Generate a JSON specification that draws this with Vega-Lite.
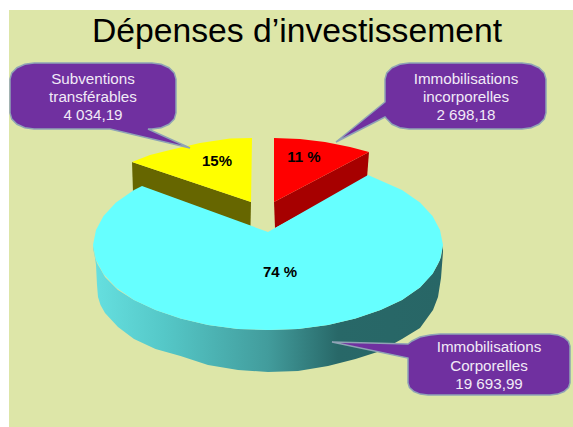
{"$schema":"https://vega.github.io/schema/vega-lite/v6.json","width":573,"height":427,"autosize":{"type":"fit","contains":"padding"},"padding":0,"background":"white","view":{"stroke":null},
"datasets":{
"bg":[{"x":9,"x2":573,"y":10,"y2":427}],
"wall":[{"x":93,"t":245,"b":248},{"x":95,"t":256,"b":258},{"x":96,"t":260,"b":265},{"x":97,"t":263,"b":285},{"x":98,"t":265,"b":297},{"x":100.5,"t":269,"b":305},{"x":105,"t":277,"b":313},{"x":118,"t":290,"b":327},{"x":134,"t":300,"b":339},{"x":155.5,"t":310,"b":349},{"x":180.5,"t":318.6,"b":356},{"x":208,"t":325,"b":365},{"x":238,"t":329,"b":370},{"x":268,"t":330,"b":372},{"x":298,"t":329,"b":371},{"x":328,"t":325,"b":366},{"x":355.5,"t":318.6,"b":359},{"x":380.5,"t":310,"b":351},{"x":402,"t":300,"b":339},{"x":420,"t":287.5,"b":328},{"x":433,"t":273,"b":310},{"x":438,"t":264,"b":297},{"x":441,"t":257,"b":278},{"x":443,"t":245,"b":252}],
"wedges":[
{"p":"yellowWall","i":1,"x":132,"y":162},{"p":"yellowWall","i":2,"x":251,"y":202},{"p":"yellowWall","i":3,"x":250.5,"y":226},{"p":"yellowWall","i":4,"x":133,"y":192},
{"p":"yellowTop","i":1,"x":252,"y":138},{"p":"yellowTop","i":2,"x":230,"y":138.5},{"p":"yellowTop","i":3,"x":200,"y":143},{"p":"yellowTop","i":4,"x":170,"y":150},{"p":"yellowTop","i":5,"x":150,"y":155},{"p":"yellowTop","i":6,"x":132,"y":162},{"p":"yellowTop","i":7,"x":251,"y":202},
{"p":"redWall","i":1,"x":369,"y":152},{"p":"redWall","i":2,"x":274,"y":202},{"p":"redWall","i":3,"x":275,"y":228},{"p":"redWall","i":4,"x":367,"y":178},
{"p":"redTop","i":1,"x":274,"y":138},{"p":"redTop","i":2,"x":300,"y":139},{"p":"redTop","i":3,"x":325,"y":142},{"p":"redTop","i":4,"x":350,"y":147},{"p":"redTop","i":5,"x":369,"y":152},{"p":"redTop","i":6,"x":274,"y":202}
],
"cyan":[{"i":1,"x":268,"y":232},{"i":2,"x":368,"y":175},{"i":3,"x":402,"y":190},{"i":4,"x":420,"y":202.5},{"i":5,"x":432.5,"y":216},{"i":6,"x":440,"y":230},{"i":7,"x":443,"y":245},{"i":8,"x":440,"y":260},{"i":9,"x":432.5,"y":274},{"i":10,"x":420,"y":287.5},{"i":11,"x":402,"y":300},{"i":12,"x":380.5,"y":310},{"i":13,"x":355.5,"y":318.6},{"i":14,"x":328,"y":325},{"i":15,"x":298,"y":329},{"i":16,"x":268,"y":330},{"i":17,"x":238,"y":329},{"i":18,"x":208,"y":325},{"i":19,"x":180.5,"y":318.6},{"i":20,"x":155.5,"y":310},{"i":21,"x":134,"y":300},{"i":22,"x":116,"y":287.5},{"i":23,"x":103.5,"y":274},{"i":24,"x":96,"y":260},{"i":25,"x":93,"y":245},{"i":26,"x":96,"y":230},{"i":27,"x":103.5,"y":216},{"i":28,"x":116,"y":202.5},{"i":29,"x":134,"y":190},{"i":30,"x":142,"y":186}],
"callouts":[
{"c":"a","i":1,"x":34,"y":63},{"c":"a","i":2,"x":152,"y":63},{"c":"a","i":3,"x":161.2,"y":64.2},{"c":"a","i":4,"x":169,"y":67.7},{"c":"a","i":5,"x":174.2,"y":72.9},{"c":"a","i":6,"x":176,"y":79},{"c":"a","i":7,"x":176,"y":113},{"c":"a","i":8,"x":174.2,"y":119.1},{"c":"a","i":9,"x":169,"y":124.3},{"c":"a","i":10,"x":161.2,"y":127.8},{"c":"a","i":11,"x":152,"y":129},{"c":"a","i":12,"x":148,"y":129},{"c":"a","i":13,"x":190,"y":148},{"c":"a","i":14,"x":110,"y":129},{"c":"a","i":15,"x":34,"y":129},{"c":"a","i":16,"x":24.8,"y":127.8},{"c":"a","i":17,"x":17,"y":124.3},{"c":"a","i":18,"x":11.8,"y":119.1},{"c":"a","i":19,"x":10,"y":113},{"c":"a","i":20,"x":10,"y":79},{"c":"a","i":21,"x":11.8,"y":72.9},{"c":"a","i":22,"x":17,"y":67.7},{"c":"a","i":23,"x":24.8,"y":64.2},{"c":"a","i":24,"x":34,"y":63},
{"c":"b","i":1,"x":409,"y":63},{"c":"b","i":2,"x":522,"y":63},{"c":"b","i":3,"x":531.2,"y":64.2},{"c":"b","i":4,"x":539,"y":67.7},{"c":"b","i":5,"x":544.2,"y":72.9},{"c":"b","i":6,"x":546,"y":79},{"c":"b","i":7,"x":546,"y":113},{"c":"b","i":8,"x":544.2,"y":119.1},{"c":"b","i":9,"x":539,"y":124.3},{"c":"b","i":10,"x":531.2,"y":127.8},{"c":"b","i":11,"x":522,"y":129},{"c":"b","i":12,"x":409,"y":129},{"c":"b","i":13,"x":399.8,"y":127.8},{"c":"b","i":14,"x":392,"y":124.3},{"c":"b","i":15,"x":386.8,"y":119.1},{"c":"b","i":16,"x":385,"y":117},{"c":"b","i":17,"x":336,"y":142},{"c":"b","i":18,"x":385,"y":102},{"c":"b","i":19,"x":385,"y":79},{"c":"b","i":20,"x":386.8,"y":72.9},{"c":"b","i":21,"x":392,"y":67.7},{"c":"b","i":22,"x":399.8,"y":64.2},{"c":"b","i":23,"x":409,"y":63},
{"c":"c","i":1,"x":440,"y":334},{"c":"c","i":2,"x":550,"y":334},{"c":"c","i":3,"x":557.7,"y":334.9},{"c":"c","i":4,"x":564.1,"y":337.5},{"c":"c","i":5,"x":568.5,"y":341.4},{"c":"c","i":6,"x":570,"y":346},{"c":"c","i":7,"x":570,"y":383},{"c":"c","i":8,"x":568.5,"y":387.6},{"c":"c","i":9,"x":564.1,"y":391.5},{"c":"c","i":10,"x":557.7,"y":394.1},{"c":"c","i":11,"x":550,"y":395},{"c":"c","i":12,"x":428,"y":395},{"c":"c","i":13,"x":420.3,"y":394.1},{"c":"c","i":14,"x":413.9,"y":391.5},{"c":"c","i":15,"x":409.5,"y":387.6},{"c":"c","i":16,"x":408,"y":383},{"c":"c","i":17,"x":408,"y":358},{"c":"c","i":18,"x":332,"y":342},{"c":"c","i":19,"x":408,"y":344},{"c":"c","i":20,"x":412,"y":341},{"c":"c","i":21,"x":420,"y":337},{"c":"c","i":22,"x":430,"y":335},{"c":"c","i":23,"x":440,"y":334}
],
"calloutText":[
{"t":"Subventions","x":93,"y":79},{"t":"transférables","x":93,"y":97},{"t":"4 034,19","x":93,"y":115},
{"t":"Immobilisations","x":466,"y":79},{"t":"incorporelles","x":466,"y":97},{"t":"2 698,18","x":466,"y":115},
{"t":"Immobilisations","x":489,"y":347},{"t":"Corporelles","x":489,"y":366},{"t":"19 693,99","x":489,"y":384}
],
"pct":[{"t":"15%","x":217,"y":161},{"t":"11 %","x":304,"y":157},{"t":"74 %","x":280,"y":272}],
"title":[{"t":"Dépenses d’investissement","x":297,"y":32}]
},
"encoding":{
"x":{"field":"x","type":"quantitative","scale":{"domain":[0,573],"nice":false,"zero":false},"axis":null},
"y":{"field":"y","type":"quantitative","scale":{"domain":[427,0],"nice":false,"zero":false},"axis":null}
},
"layer":[
{"data":{"name":"bg"},"mark":{"type":"rect","color":"#dde6a8"},"encoding":{"x2":{"field":"x2"},"y2":{"field":"y2"}}},
{"data":{"name":"wall"},"mark":{"type":"area","line":false,"color":{"gradient":"linear","x1":0,"y1":0,"x2":1,"y2":0,"stops":[{"offset":0,"color":"#66e0e0"},{"offset":0.2,"color":"#55c8c8"},{"offset":0.5,"color":"#429c9c"},{"offset":0.7,"color":"#286868"},{"offset":1,"color":"#286666"}]}},"encoding":{"y":{"field":"t","type":"quantitative","scale":{"domain":[427,0],"nice":false,"zero":false},"axis":null},"y2":{"field":"b"}}},
{"data":{"name":"wedges"},"mark":{"type":"line","filled":true,"strokeWidth":0},"encoding":{"order":{"field":"i"},"detail":{"field":"p"},"color":{"field":"p","type":"nominal","legend":null,"scale":{"domain":["yellowWall","yellowTop","redWall","redTop"],"range":["#666600","#ffff00","#a60000","#ff0000"]}}}},
{"data":{"name":"cyan"},"mark":{"type":"line","filled":true,"strokeWidth":0,"color":"#66ffff"},"encoding":{"order":{"field":"i"}}},
{"data":{"name":"callouts"},"mark":{"type":"line","filled":true,"color":"#7030a0","stroke":"#8fa3b5","strokeWidth":1.5},"encoding":{"order":{"field":"i"},"detail":{"field":"c"}}},
{"data":{"name":"calloutText"},"mark":{"type":"text","font":"Liberation Sans","fontSize":15.2,"color":"#f2eaf7","align":"center","baseline":"middle"},"encoding":{"text":{"field":"t"}}},
{"data":{"name":"pct"},"mark":{"type":"text","font":"Liberation Sans","fontSize":15,"fontWeight":"bold","color":"#000000","align":"center","baseline":"middle"},"encoding":{"text":{"field":"t"}}},
{"data":{"name":"title"},"mark":{"type":"text","font":"Liberation Sans","fontSize":33.7,"color":"#000000","align":"center","baseline":"middle"},"encoding":{"text":{"field":"t"}}}
]}
